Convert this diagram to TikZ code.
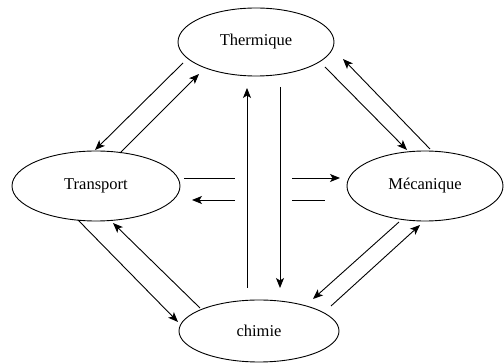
\documentclass[tikz,border=0pt]{standalone}
\usepackage{fontspec}
\setmainfont{Liberation Serif}
\usetikzlibrary{shapes.geometric,arrows.meta}
\begin{document}
\begin{tikzpicture}[x=1pt,y=-1pt,
  state/.style={draw,ellipse,line width=0.9pt,inner sep=0pt,font=\fontsize{16.5}{20}\selectfont},
  conn/.style={line width=0.9pt},
  arr/.style={conn,-{Stealth[length=10pt,width=8pt,inset=2.5pt]}}]
\useasboundingbox (0,0) rectangle (504,363);
\node[state,minimum width=156pt,minimum height=68pt] (th) at (256,42) {Thermique};
\node[state,minimum width=168pt,minimum height=70pt] (tr) at (96,186) {Transport};
\node[state,minimum width=156pt,minimum height=70pt] (me) at (425,186) {Mécanique};
\node[state,minimum width=160pt,minimum height=62pt] (ch) at (259,331) {chimie};
% endpoints
\coordinate (a1) at (183,63);  \coordinate (a2) at (95,150);
\coordinate (b1) at (120,153); \coordinate (b2) at (199,74);
\coordinate (c1) at (325,67);  \coordinate (c2) at (407,150);
\coordinate (d1) at (430,149); \coordinate (d2) at (343,59);
\coordinate (e1) at (78,220);  \coordinate (e2) at (178,322);
\coordinate (f1) at (200,308); \coordinate (f2) at (113,223);
\coordinate (g1) at (399,222); \coordinate (g2) at (313,299);
\coordinate (h1) at (331,306); \coordinate (h2) at (420,225);
\coordinate (v1) at (247,288); \coordinate (v2) at (247,88);
\coordinate (w1) at (280,87);  \coordinate (w2) at (280,288);
\coordinate (p1) at (184,178); \coordinate (p2) at (235,178);
\coordinate (p3) at (292,178); \coordinate (p4) at (340,178);
\coordinate (q1) at (235,200); \coordinate (q2) at (192,200);
\coordinate (q3) at (292,200); \coordinate (q4) at (325,200);
\draw[arr] (a1) -- (a2);
\draw[arr] (b1) -- (b2);
\draw[arr] (c1) -- (c2);
\draw[arr] (d1) -- (d2);
\draw[arr] (e1) -- (e2);
\draw[arr] (f1) -- (f2);
\draw[arr] (g1) -- (g2);
\draw[arr] (h1) -- (h2);
\draw[arr] (v1) -- (v2);
\draw[arr] (w1) -- (w2);
\draw[conn] (p1) -- (p2);
\draw[arr] (p3) -- (p4);
\draw[arr] (q1) -- (q2);
\draw[conn] (q3) -- (q4);
\end{tikzpicture}
\end{document}
